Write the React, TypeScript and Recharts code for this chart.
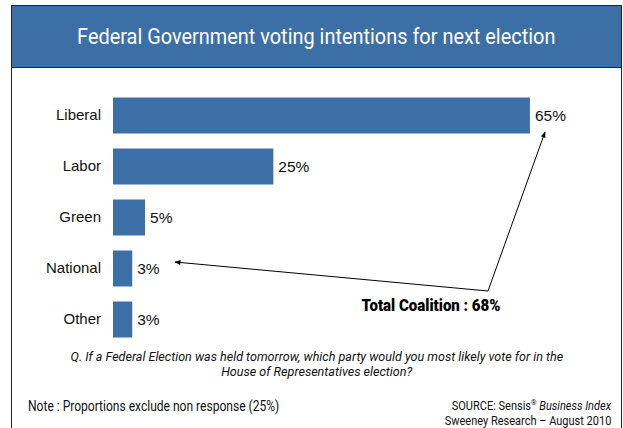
import React from 'react';
import { BarChart, Bar, XAxis, YAxis, LabelList } from 'recharts';

const parties = ['Liberal', 'Labor', 'Green', 'National', 'Other'];
const shares = [65, 25, 5, 3, 3];

const data = parties.map((party, i) => ({ party, share: shares[i] }));

const BLUE = '#3D6FA7';
const NARROW = 'Roboto, "Noto Sans", sans-serif';
const ARIAL = '"Liberation Sans", Arial, sans-serif';

const squeeze = (sx: number, origin: string): React.CSSProperties => ({
  display: 'inline-block',
  transform: `scaleX(${sx})`,
  transformOrigin: origin,
  whiteSpace: 'nowrap',
});

export default function App() {
  return (
    <div
      style={{
        position: 'fixed',
        left: 0,
        top: 0,
        width: 623,
        height: 428,
        background: '#fff',
        overflow: 'hidden',
      }}
    >
      {/* frame */}
      <div
        style={{
          position: 'absolute',
          left: 11,
          top: 5,
          width: 611,
          height: 440,
          border: '1.5px solid #222',
          boxSizing: 'border-box',
        }}
      />
      <div
        style={{
          position: 'absolute',
          left: 12,
          top: 6,
          width: 609,
          height: 61,
          background: BLUE,
          borderBottom: '1.5px solid #222',
          color: '#fff',
          fontFamily: NARROW,
          fontSize: 22.5,
          lineHeight: '61px',
          textAlign: 'center',
        }}
      >
        <span style={squeeze(0.885, 'center')}>Federal Government voting intentions for next election</span>
      </div>

      <div style={{ position: 'absolute', left: 0, top: 0 }}>
        <BarChart
          width={623}
          height={428}
          data={data}
          layout="vertical"
          margin={{ top: 89.5, right: 61, bottom: 83.5, left: 0 }}
        >
          <XAxis type="number" domain={[0, 70]} hide />
          <YAxis
            type="category"
            dataKey="party"
            width={113}
            axisLine={false}
            tickLine={false}
            tickMargin={6}
            tick={{ fontSize: 15, fill: '#111', fontFamily: ARIAL }}
          />
          <Bar dataKey="share" fill={BLUE} barSize={36} isAnimationActive={false}>
            <LabelList
              dataKey="share"
              position="right"
              offset={5}
              formatter={(v: number) => `${v}%`}
              style={{ fontSize: 15.5, fill: '#111', fontFamily: ARIAL }}
            />
          </Bar>
        </BarChart>
      </div>

      {/* coalition annotation */}
      <svg width={623} height={428} style={{ position: 'absolute', left: 0, top: 0, pointerEvents: 'none' }}>
        <defs>
          <marker id="arr" viewBox="0 0 10 10" refX="9" refY="5" markerWidth="7" markerHeight="6" orient="auto">
            <path d="M0,1 L10,5 L0,9 z" fill="#000" />
          </marker>
        </defs>
        <line x1={488} y1={291} x2={545} y2={132} stroke="#000" strokeWidth={1} markerEnd="url(#arr)" />
        <line x1={488} y1={291} x2={175} y2={262} stroke="#000" strokeWidth={1} markerEnd="url(#arr)" />
        <text
          x={431}
          y={311}
          textAnchor="middle"
          fontFamily={NARROW}
          fontWeight={900}
          fontSize={16.5}
          fill="#000"
          textLength={139}
          lengthAdjust="spacingAndGlyphs"
        >
          Total Coalition : 68%
        </text>
      </svg>

      <div
        style={{
          position: 'absolute',
          left: 12,
          width: 609,
          top: 349,
          textAlign: 'center',
          fontFamily: NARROW,
          fontStyle: 'italic',
          fontSize: 13.5,
          lineHeight: '15px',
          color: '#111',
        }}
      >
        <span style={squeeze(0.93, 'center')}>
          Q. If a Federal Election was held tomorrow, which party would you most likely vote for in the
        </span>
        <br />
        <span style={squeeze(0.93, 'center')}>House of Representatives election?</span>
      </div>
      <div
        style={{
          position: 'absolute',
          left: 28,
          top: 398,
          fontFamily: NARROW,
          fontSize: 14,
          lineHeight: '16px',
          color: '#111',
        }}
      >
        <span style={squeeze(0.86, 'left')}>Note : Proportions exclude non response (25%)</span>
      </div>
      <div
        style={{
          position: 'absolute',
          right: 12,
          top: 399,
          fontFamily: NARROW,
          fontSize: 12.5,
          lineHeight: '14px',
          color: '#111',
        }}
      >
        <span style={squeeze(0.88, 'right')}>
          SOURCE: Sensis<span style={{ fontSize: 8, position: 'relative', top: -5 }}>®</span> <i>Business Index</i>
        </span>
      </div>
      <div
        style={{
          position: 'absolute',
          right: 12,
          top: 414,
          fontFamily: NARROW,
          fontSize: 12.5,
          lineHeight: '14px',
          color: '#111',
        }}
      >
        <span style={squeeze(0.88, 'right')}>Sweeney Research – August 2010</span>
      </div>
    </div>
  );
}
